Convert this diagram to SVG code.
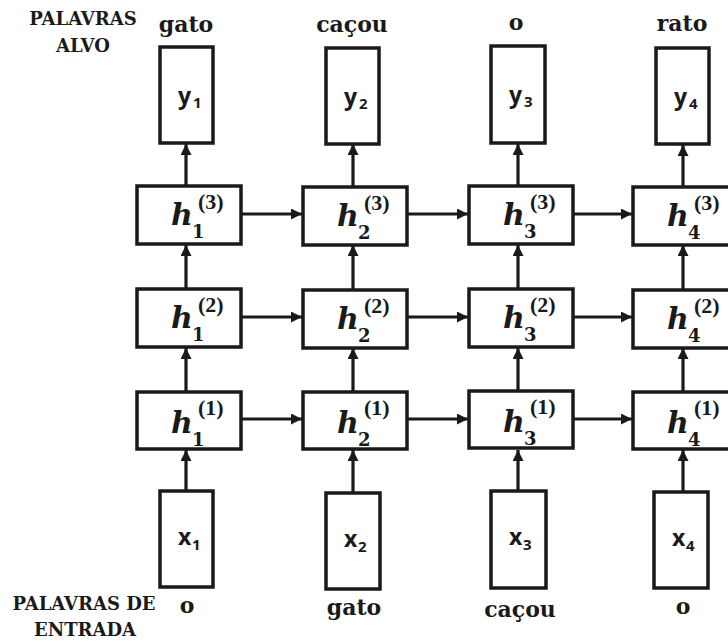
<svg xmlns="http://www.w3.org/2000/svg" width="728" height="642" viewBox="0 0 728 642">
  <defs>
    <marker id="arrow" viewBox="0 0 11 11" refX="11" refY="5.5" markerWidth="11" markerHeight="11" markerUnits="userSpaceOnUse" orient="auto">
      <path d="M0,0 L11,5.5 L0,11 z" fill="#1a1a1a"/>
    </marker>
  </defs>
  <style>
    .box { fill: #ffffff; stroke: #1a1a1a; stroke-width: 3.5; }
    .edge { stroke: #1a1a1a; stroke-width: 3.2; fill: none; marker-end: url(#arrow); }
    .word { font-family: "DejaVu Serif", "Liberation Serif", serif; font-weight: bold; font-size: 22px; fill: #1a1a1a; text-anchor: middle; }
    .caption { font-family: "DejaVu Serif", "Liberation Serif", serif; font-weight: bold; font-size: 18px; fill: #1a1a1a; text-anchor: middle; }
    .io { font-family: "Open Sans", "Liberation Sans", Arial, sans-serif; font-weight: bold; font-size: 23px; fill: #1a1a1a; }
    .io-sub { font-family: "Open Sans", "Liberation Sans", Arial, sans-serif; font-weight: bold; font-size: 15px; fill: #1a1a1a; }
    .h { font-family: "DejaVu Serif", serif; font-weight: bold; font-style: italic; font-size: 30px; fill: #1a1a1a; }
    .h-sub { font-family: "DejaVu Serif", serif; font-weight: bold; font-size: 18px; fill: #1a1a1a; }
    .h-sup { font-family: "Liberation Serif", serif; font-weight: bold; font-size: 22px; fill: #1a1a1a; }
  </style>

  <!-- captions -->
  <g id="captions">
    <text class="caption" x="83" y="25">PALAVRAS</text>
    <text class="caption" x="83" y="52">ALVO</text>
    <text class="caption" x="84" y="610">PALAVRAS DE</text>
    <text class="caption" x="85" y="636">ENTRADA</text>
  </g>

  <!-- target words -->
  <g id="target-words">
    <text class="word" x="186" y="32">gato</text>
    <text class="word" x="352" y="32">caçou</text>
    <text class="word" x="516" y="30">o</text>
    <text class="word" x="682" y="31">rato</text>
  </g>

  <!-- input words -->
  <g id="input-words">
    <text class="word" x="187" y="613">o</text>
    <text class="word" x="354" y="615">gato</text>
    <text class="word" x="520" y="617">caçou</text>
    <text class="word" x="683" y="614">o</text>
  </g>

  <!-- connectors -->
  <g id="connectors">
    <!-- inputs to first hidden layer -->
    <line class="edge" x1="186" y1="491" x2="186" y2="450"/>
    <line class="edge" x1="353" y1="493" x2="353" y2="450"/>
    <line class="edge" x1="518" y1="491" x2="518" y2="450"/>
    <line class="edge" x1="683" y1="492" x2="683" y2="450"/>
    <!-- layer 1 to layer 2 -->
    <line class="edge" x1="186" y1="392" x2="186" y2="348"/>
    <line class="edge" x1="353" y1="392" x2="353" y2="348"/>
    <line class="edge" x1="518" y1="392" x2="518" y2="348"/>
    <line class="edge" x1="683" y1="392" x2="683" y2="348"/>
    <!-- layer 2 to layer 3 -->
    <line class="edge" x1="186" y1="290" x2="186" y2="245"/>
    <line class="edge" x1="353" y1="290" x2="353" y2="245"/>
    <line class="edge" x1="518" y1="290" x2="518" y2="245"/>
    <line class="edge" x1="683" y1="290" x2="683" y2="245"/>
    <!-- layer 3 to outputs -->
    <line class="edge" x1="186" y1="187" x2="186" y2="144"/>
    <line class="edge" x1="353" y1="187" x2="353" y2="144"/>
    <line class="edge" x1="518" y1="187" x2="518" y2="144"/>
    <line class="edge" x1="683" y1="187" x2="683" y2="145"/>
    <!-- recurrent links, layer 3 -->
    <line class="edge" x1="242" y1="214" x2="302" y2="214"/>
    <line class="edge" x1="408" y1="214" x2="468" y2="214"/>
    <line class="edge" x1="574" y1="214" x2="632" y2="214"/>
    <!-- recurrent links, layer 2 -->
    <line class="edge" x1="242" y1="317" x2="302" y2="317"/>
    <line class="edge" x1="408" y1="317" x2="468" y2="317"/>
    <line class="edge" x1="574" y1="317" x2="632" y2="317"/>
    <!-- recurrent links, layer 1 -->
    <line class="edge" x1="242" y1="419" x2="302" y2="419"/>
    <line class="edge" x1="408" y1="419" x2="468" y2="419"/>
    <line class="edge" x1="574" y1="419" x2="632" y2="419"/>
  </g>

  <!-- output nodes -->
  <g id="y1" transform="translate(160,47)">
    <rect class="box" x="0" y="0" width="53" height="96"/>
    <text class="io" x="18" y="57">y</text><text class="io-sub" x="33" y="61">1</text>
  </g>
  <g id="y2" transform="translate(326,48)">
    <rect class="box" x="0" y="0" width="53" height="96"/>
    <text class="io" x="18" y="57">y</text><text class="io-sub" x="33" y="61">2</text>
  </g>
  <g id="y3" transform="translate(491,46)">
    <rect class="box" x="0" y="0" width="54" height="97"/>
    <text class="io" x="18" y="57">y</text><text class="io-sub" x="33" y="61">3</text>
  </g>
  <g id="y4" transform="translate(656,48)">
    <rect class="box" x="0" y="0" width="53" height="96"/>
    <text class="io" x="18" y="57">y</text><text class="io-sub" x="33" y="61">4</text>
  </g>

  <!-- hidden layer 3 -->
  <g id="h1-3" transform="translate(137,186)">
    <rect class="box" x="0" y="0" width="104" height="58"/>
    <text class="h" x="34" y="39">h</text><text class="h-sub" x="55" y="52">1</text><text class="h-sup" x="61" y="23">(3)</text>
  </g>
  <g id="h2-3" transform="translate(303,187)">
    <rect class="box" x="0" y="0" width="104" height="58"/>
    <text class="h" x="34" y="39">h</text><text class="h-sub" x="55" y="52">2</text><text class="h-sup" x="61" y="23">(3)</text>
  </g>
  <g id="h3-3" transform="translate(469,186)">
    <rect class="box" x="0" y="0" width="104" height="58"/>
    <text class="h" x="34" y="39">h</text><text class="h-sub" x="55" y="52">3</text><text class="h-sup" x="61" y="23">(3)</text>
  </g>
  <g id="h4-3" transform="translate(633,187)">
    <rect class="box" x="0" y="0" width="104" height="58"/>
    <text class="h" x="34" y="39">h</text><text class="h-sub" x="55" y="52">4</text><text class="h-sup" x="61" y="23">(3)</text>
  </g>

  <!-- hidden layer 2 -->
  <g id="h1-2" transform="translate(137,289)">
    <rect class="box" x="0" y="0" width="104" height="58"/>
    <text class="h" x="34" y="39">h</text><text class="h-sub" x="55" y="52">1</text><text class="h-sup" x="61" y="23">(2)</text>
  </g>
  <g id="h2-2" transform="translate(303,290)">
    <rect class="box" x="0" y="0" width="104" height="58"/>
    <text class="h" x="34" y="39">h</text><text class="h-sub" x="55" y="52">2</text><text class="h-sup" x="61" y="23">(2)</text>
  </g>
  <g id="h3-2" transform="translate(469,289)">
    <rect class="box" x="0" y="0" width="104" height="58"/>
    <text class="h" x="34" y="39">h</text><text class="h-sub" x="55" y="52">3</text><text class="h-sup" x="61" y="23">(2)</text>
  </g>
  <g id="h4-2" transform="translate(633,290)">
    <rect class="box" x="0" y="0" width="104" height="58"/>
    <text class="h" x="34" y="39">h</text><text class="h-sub" x="55" y="52">4</text><text class="h-sup" x="61" y="23">(2)</text>
  </g>

  <!-- hidden layer 1 -->
  <g id="h1-1" transform="translate(137,392)">
    <rect class="box" x="0" y="0" width="104" height="57"/>
    <text class="h" x="34" y="41">h</text><text class="h-sub" x="55" y="54">1</text><text class="h-sup" x="61" y="23">(1)</text>
  </g>
  <g id="h2-1" transform="translate(303,392)">
    <rect class="box" x="0" y="0" width="104" height="57"/>
    <text class="h" x="34" y="41">h</text><text class="h-sub" x="55" y="54">2</text><text class="h-sup" x="61" y="23">(1)</text>
  </g>
  <g id="h3-1" transform="translate(469,391)">
    <rect class="box" x="0" y="0" width="104" height="57"/>
    <text class="h" x="34" y="41">h</text><text class="h-sub" x="55" y="54">3</text><text class="h-sup" x="61" y="23">(1)</text>
  </g>
  <g id="h4-1" transform="translate(633,392)">
    <rect class="box" x="0" y="0" width="104" height="57"/>
    <text class="h" x="34" y="41">h</text><text class="h-sub" x="55" y="54">4</text><text class="h-sup" x="61" y="23">(1)</text>
  </g>

  <!-- input nodes -->
  <g id="x1" transform="translate(160,491)">
    <rect class="box" x="0" y="0" width="53" height="96"/>
    <text class="io" x="18" y="54">x</text><text class="io-sub" x="32" y="59">1</text>
  </g>
  <g id="x2" transform="translate(326,493)">
    <rect class="box" x="0" y="0" width="54" height="96"/>
    <text class="io" x="18" y="54">x</text><text class="io-sub" x="32" y="59">2</text>
  </g>
  <g id="x3" transform="translate(491,491)">
    <rect class="box" x="0" y="0" width="55" height="97"/>
    <text class="io" x="18" y="54">x</text><text class="io-sub" x="32" y="59">3</text>
  </g>
  <g id="x4" transform="translate(654,492)">
    <rect class="box" x="0" y="0" width="54" height="96"/>
    <text class="io" x="18" y="54">x</text><text class="io-sub" x="32" y="59">4</text>
  </g>
</svg>
